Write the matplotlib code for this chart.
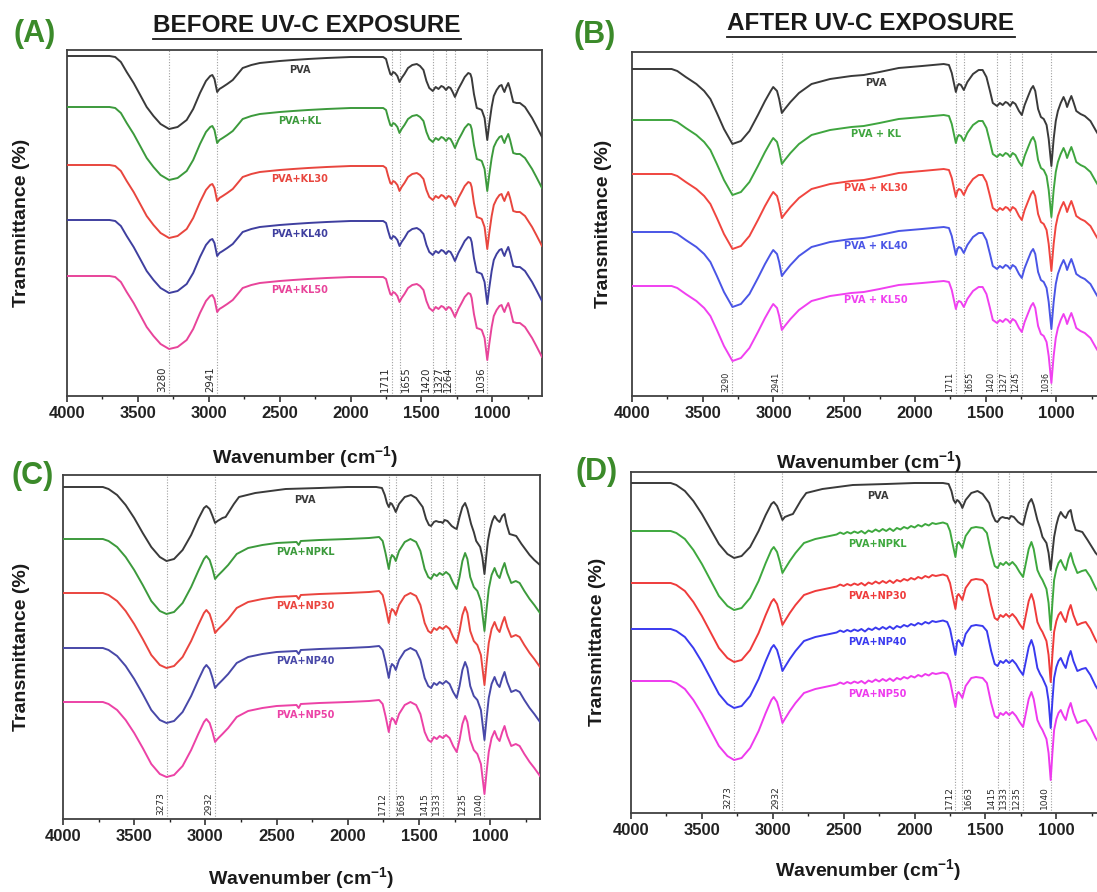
import matplotlib
matplotlib.use('Agg')
import matplotlib.pyplot as plt
from matplotlib.lines import Line2D

W, H = 1097, 892
plt.rcParams['font.family'] = ['Liberation Sans', 'DejaVu Sans']
plt.rcParams['mathtext.fontset'] = 'custom'
plt.rcParams['mathtext.bf'] = 'Liberation Sans:bold'
plt.rcParams['mathtext.rm'] = 'Liberation Sans:bold'
plt.rcParams['mathtext.default'] = 'bf'

# ---------------- data (wavenumber, depth below series baseline) ----------------
A_SHAPE = [(4000, 0), (3700, 0), (3660, 1), (3620, 6), (3579, 16), (3530, 27), (3480, 40), (3438, 51),
           (3390, 60), (3340, 68), (3280, 73), (3220, 71), (3156, 64), (3110, 53), (3062, 37), (3020, 25),
           (2990, 20), (2975, 19), (2960, 23), (2941, 36), (2925, 33), (2902, 31), (2870, 28), (2831, 24),
           (2790, 17), (2761, 12), (2700, 9), (2640, 7), (2500, 5), (2406, 4), (2300, 3), (2169, 2),
           (2000, 1), (1800, 1), (1770, 1), (1750, 3), (1735, 11), (1720, 18), (1711, 19), (1700, 16),
           (1687, 17), (1670, 20), (1655, 26), (1640, 22), (1620, 18), (1595, 12), (1565, 9), (1533, 8),
           (1510, 10), (1486, 14), (1465, 25), (1445, 32), (1420, 35), (1400, 31), (1380, 33), (1360, 30),
           (1345, 31), (1327, 34), (1310, 31), (1295, 32), (1280, 36), (1264, 41), (1240, 33), (1217, 27),
           (1195, 21), (1170, 17), (1155, 18), (1146, 22), (1130, 38), (1110, 52), (1090, 53), (1075, 54),
           (1055, 62), (1036, 84), (1022, 68), (1005, 51), (990, 40), (970, 34), (950, 30), (935, 29),
           (925, 33), (915, 36), (905, 32), (888, 27), (875, 33), (853, 46), (830, 47), (806, 47),
           (770, 51), (720, 62), (690, 70), (650, 81)]

B_SHAPE = [(4000, 0), (3720, 0), (3680, 2), (3620, 8), (3545, 15), (3490, 22), (3446, 30), (3400, 44),
           (3350, 60), (3290, 75), (3230, 72), (3170, 62), (3110, 46), (3060, 32), (3020, 22), (3002, 18),
           (2975, 22), (2960, 30), (2941, 44), (2920, 40), (2880, 33), (2820, 24), (2731, 15), (2600, 10),
           (2450, 7), (2362, 6), (2250, 3), (2115, -1), (1950, -3), (1797, -5), (1760, -4), (1740, 4),
           (1725, 14), (1711, 23), (1700, 17), (1690, 15), (1675, 16), (1655, 21), (1630, 13), (1590, 5),
           (1550, 1), (1522, 1), (1495, 8), (1470, 22), (1450, 34), (1420, 37), (1400, 34), (1380, 36),
           (1360, 33), (1345, 34), (1327, 37), (1310, 33), (1290, 35), (1265, 42), (1245, 46), (1225, 36),
           (1200, 27), (1180, 20), (1165, 17), (1150, 22), (1130, 40), (1110, 48), (1090, 50), (1070, 56),
           (1055, 70), (1036, 97), (1020, 70), (1005, 52), (990, 42), (970, 34), (950, 28), (935, 33),
           (925, 38), (910, 32), (895, 27), (880, 33), (860, 42), (830, 45), (800, 47), (760, 52),
           (720, 62), (650, 78)]

C_PVA = [(4000, 0), (3720, 0), (3680, 2), (3620, 8), (3560, 18), (3500, 31), (3440, 46), (3380, 60),
         (3320, 70), (3273, 74), (3220, 72), (3160, 63), (3100, 48), (3050, 32), (3010, 21), (2993, 19),
         (2970, 22), (2950, 29), (2932, 36), (2915, 34), (2880, 31), (2858, 30), (2800, 17), (2764, 10),
         (2650, 6), (2436, 2), (2200, 1), (2000, 0), (1800, 0), (1760, 1), (1740, 8), (1725, 16),
         (1712, 20), (1700, 16), (1690, 17), (1675, 21), (1663, 25), (1640, 17), (1600, 10), (1556, 8),
         (1520, 11), (1474, 20), (1450, 32), (1430, 38), (1415, 39), (1395, 35), (1380, 34), (1360, 35),
         (1345, 35), (1333, 36), (1320, 33), (1300, 34), (1270, 39), (1250, 41), (1235, 42), (1215, 30),
         (1195, 20), (1176, 16), (1160, 22), (1134, 37), (1115, 45), (1098, 54), (1070, 60), (1055, 70),
         (1040, 87), (1028, 70), (1016, 54), (1000, 42), (985, 34), (969, 29), (950, 33), (934, 35),
         (915, 29), (899, 27), (885, 37), (864, 47), (840, 48), (817, 49), (780, 57), (723, 68),
         (690, 73), (650, 78)]

C_NP = [(4000, 0), (3720, 0), (3680, 2), (3620, 8), (3560, 18), (3500, 31), (3440, 46), (3380, 62),
        (3320, 72), (3273, 75), (3220, 73), (3160, 64), (3100, 48), (3050, 32), (3010, 20), (2993, 17),
        (2970, 21), (2950, 30), (2932, 40), (2915, 37), (2880, 32), (2840, 26), (2780, 15), (2700, 9),
        (2600, 6), (2500, 4), (2360, 3), (2345, 6), (2330, 2), (2200, 1), (2000, 0), (1850, -1),
        (1780, -2), (1755, 2), (1735, 14), (1712, 30), (1700, 20), (1690, 16), (1675, 18), (1663, 22),
        (1640, 12), (1600, 3), (1560, 0), (1520, 3), (1490, 12), (1460, 30), (1435, 38), (1415, 40),
        (1395, 35), (1375, 37), (1355, 34), (1333, 36), (1310, 33), (1285, 36), (1260, 44), (1235, 50),
        (1215, 38), (1195, 22), (1176, 14), (1160, 20), (1140, 38), (1115, 48), (1090, 52), (1065, 62),
        (1040, 92), (1025, 70), (1010, 50), (990, 36), (969, 29), (950, 36), (934, 39), (915, 30),
        (899, 24), (880, 34), (852, 44), (820, 42), (793, 44), (760, 52), (723, 60), (690, 66),
        (650, 74)]

D_PVA = [(4000, 0), (3720, 0), (3680, 2), (3620, 8), (3560, 18), (3500, 31), (3440, 46), (3380, 61),
         (3320, 71), (3273, 75), (3220, 73), (3160, 64), (3100, 48), (3050, 32), (3010, 21), (2993, 19),
         (2970, 23), (2950, 30), (2932, 37), (2915, 34), (2880, 32), (2858, 31), (2800, 17), (2764, 10),
         (2650, 6), (2436, 2), (2200, 1), (2000, 0), (1800, 0), (1760, 1), (1740, 8), (1725, 17),
         (1712, 20), (1700, 17), (1690, 18), (1675, 21), (1663, 25), (1640, 17), (1600, 10), (1556, 8),
         (1520, 11), (1474, 20), (1450, 32), (1430, 38), (1415, 39), (1395, 35), (1380, 34), (1360, 35),
         (1345, 35), (1333, 36), (1320, 33), (1300, 34), (1270, 39), (1250, 41), (1235, 42), (1215, 30),
         (1195, 20), (1176, 16), (1160, 22), (1134, 37), (1115, 45), (1098, 54), (1070, 60), (1055, 70),
         (1040, 87), (1028, 70), (1016, 54), (1000, 42), (985, 34), (969, 29), (950, 33), (934, 35),
         (915, 29), (899, 27), (885, 37), (864, 47), (840, 48), (817, 49), (780, 57), (723, 70),
         (690, 75), (650, 80)]

D_NP = [(4000, 0), (3720, 0), (3680, 2), (3620, 8), (3560, 19), (3500, 33), (3440, 49), (3380, 65),
        (3320, 75), (3273, 79), (3220, 77), (3160, 67), (3100, 50), (3050, 32), (3010, 19), (2993, 16),
        (2970, 21), (2950, 31), (2932, 42), (2915, 38), (2880, 30), (2840, 22), (2780, 12), (2700, 8),
        (2600, 5), (2550, 3.5), (2525, 1.5), (2500, 3), (2475, 1), (2450, 2.5), (2425, 0.5), (2400, 2),
        (2375, 0), (2350, 2.5), (2325, -0.5), (2300, 1), (2275, -1.5), (2250, 0.5), (2225, -2), (2200, 0),
        (2175, -2.5), (2150, 0), (2125, -3), (2100, -1.5), (2075, -4), (2050, -2.5), (2025, -5), (2000, -3.5),
        (1975, -6), (1950, -4.5), (1925, -7), (1900, -5.5), (1875, -8), (1850, -7), (1800, -8.5), (1770, -7),
        (1750, 0), (1730, 14), (1712, 26), (1700, 13), (1690, 11), (1675, 14), (1663, 17), (1640, 5),
        (1600, -3), (1567, -4), (1520, -3), (1490, 2), (1460, 22), (1435, 35), (1415, 37), (1395, 32),
        (1375, 34), (1355, 31), (1333, 34), (1310, 31), (1285, 35), (1260, 41), (1235, 46), (1215, 32),
        (1195, 18), (1176, 11), (1160, 18), (1134, 39), (1115, 45), (1098, 49), (1070, 58), (1055, 72),
        (1040, 99), (1028, 72), (1016, 49), (1000, 38), (985, 32), (969, 29), (950, 35), (934, 39),
        (915, 28), (899, 22), (880, 32), (852, 42), (820, 40), (793, 39), (760, 46), (723, 57),
        (690, 64), (650, 70)]

A_LABELS = ['PVA', 'PVA+KL', 'PVA+KL30', 'PVA+KL40', 'PVA+KL50']
B_LABELS = ['PVA', 'PVA + KL', 'PVA + KL30', 'PVA + KL40', 'PVA + KL50']
C_LABELS = ['PVA', 'PVA+NPKL', 'PVA+NP30', 'PVA+NP40', 'PVA+NP50']
D_LABELS = ['PVA', 'PVA+NPKL', 'PVA+NP30', 'PVA+NP40', 'PVA+NP50']

A_PEAKS = [3280, 2941, 1711, 1655, 1420, 1327, 1264, 1036]
B_PEAKS = [3290, 2941, 1711, 1655, 1420, 1327, 1245, 1036]
C_PEAKS = [3273, 2932, 1712, 1663, 1415, 1333, 1235, 1040]
D_PEAKS = [3273, 2932, 1712, 1663, 1415, 1333, 1235, 1040]

X_TICKS = [4000, 3500, 3000, 2500, 2000, 1500, 1000]

# ---------------- styles / layout ----------------
A_COLORS = ['#3a3a3a', '#3c9a3c', '#e8463e', '#3f3f9f', '#e8449a']
B_COLORS = ['#3a3a3a', '#3fa53f', '#f0453f', '#4a55e6', '#f040f0']
C_COLORS = ['#3a3a3a', '#3c9a3c', '#ea453f', '#4848a8', '#ec42a6']
D_COLORS = ['#3a3a3a', '#3ea83e', '#ef3b3b', '#3a3aef', '#ee3aee']

fig = plt.figure(figsize=(W / 100, H / 100), dpi=100)
fig.patch.set_facecolor('white')


def fx(x):
    return x / W


def fy(y):
    return 1 - y / H


def draw_panel(rect, shapes, offsets, labels, colors, peaks, sides, lab_wn, lab_dy, pk_fs, ser_fs):
    left, top, right, bottom = rect
    ax = fig.add_axes([fx(left), fy(bottom), (right - left) / W, (bottom - top) / H])
    hpx = bottom - top
    ax.set_xlim(4000, 650)
    ax.set_ylim(0, hpx)
    for pk, side in zip(peaks, sides):
        ax.axvline(pk, color='#a0a0a0', lw=0.8, ls=(0, (1, 1.5)), zorder=1)
        dx = -1.2 if side == 'L' else 1.2
        ax.annotate(str(pk), xy=(pk, 0), xytext=(dx, 3), textcoords='offset points',
                    rotation=90, ha='right' if side == 'L' else 'left', va='bottom',
                    fontsize=pk_fs, family='DejaVu Sans', color='#2a2a2a', zorder=2)
    for shape, off, lab, col in zip(shapes, offsets, labels, colors):
        xs = [p[0] for p in shape]
        ys = [off - p[1] for p in shape]
        ax.plot(xs, ys, color=col, lw=1.4, zorder=3, solid_joinstyle='round')
        ax.text(lab_wn, off - lab_dy, lab, color=col, fontsize=ser_fs, fontweight='bold',
                ha='center', va='center', family='DejaVu Sans', zorder=4)
    ax.set_yticks([])
    ax.set_xticks(X_TICKS)
    ax.set_xticks([t - 250 for t in X_TICKS], minor=True)
    ax.tick_params(axis='x', which='major', direction='out', length=4, width=1.1,
                   labelsize=12, pad=3.5, colors='#222222')
    ax.tick_params(axis='x', which='minor', direction='out', length=2.5, width=1.0, colors='#222222')
    for lbl in ax.get_xticklabels():
        lbl.set_fontweight('bold')
    for s in ax.spines.values():
        s.set_linewidth(1.3)
        s.set_color('#404040')
    return ax


draw_panel((67, 50, 542, 396), [A_SHAPE] * 5, [340, 289, 231, 176, 120], A_LABELS, A_COLORS,
           A_PEAKS, ['L', 'L', 'L', 'R', 'L', 'L', 'L', 'L'], 2357, 14, 7.3, 7)
draw_panel((632, 52, 1106, 396), [B_SHAPE] * 5, [327, 276, 222, 164, 110], B_LABELS, B_COLORS,
           B_PEAKS, ['L', 'L', 'L', 'R', 'L', 'L', 'L', 'L'], 2274, 14, 5.8, 7)
draw_panel((63, 475, 540, 819), [C_PVA] + [C_NP] * 4, [332, 280, 226, 171, 117], C_LABELS, C_COLORS,
           C_PEAKS, ['L', 'L', 'L', 'R', 'L', 'L', 'R', 'L'], 2298, 13, 6.5, 7)
draw_panel((631, 472, 1106, 813), [D_PVA] + [D_NP] * 4, [330, 282, 230, 184, 132], D_LABELS, D_COLORS,
           D_PEAKS, ['L', 'L', 'L', 'R', 'L', 'L', 'L', 'L'], 2262, 13, 6.5, 7)

# ---------------- figure texts ----------------
GREEN = '#3b8a2a'
for txt, x, y in [('(A)', 35, 34), ('(B)', 595, 35), ('(C)', 33, 476), ('(D)', 597, 472)]:
    fig.text(fx(x), fy(y), txt, color=GREEN, fontsize=22, fontweight='bold', ha='center', va='center')

titles = []
for txt, x, y in [('BEFORE UV-C EXPOSURE', 307, 26), ('AFTER UV-C EXPOSURE', 871, 24)]:
    titles.append(fig.text(fx(x), fy(y), txt, color='#1a1a1a', fontsize=17.5, fontweight='bold',
                           ha='center', va='center'))

XLAB = r'Wavenumber (cm$^{-1}$)'
for x, y in [(305, 457), (869, 462), (301, 878), (868, 870)]:
    fig.text(fx(x), fy(y), XLAB, fontsize=14, fontweight='bold', ha='center', va='center', color='#1a1a1a')

for x, y in [(22, 223), (604, 224), (22, 647), (597, 642)]:
    fig.text(fx(x), fy(y), 'Transmittance (%)', fontsize=14, fontweight='bold', rotation=90,
             ha='center', va='center', color='#1a1a1a')

fig.canvas.draw()
for t in titles:
    bb = t.get_window_extent()
    yline = bb.y0 - 1
    fig.add_artist(Line2D([bb.x0 / W, bb.x1 / W], [yline / H, yline / H], color='#1a1a1a', lw=1.3))

fig.savefig('out.png', dpi=100, facecolor='white')
